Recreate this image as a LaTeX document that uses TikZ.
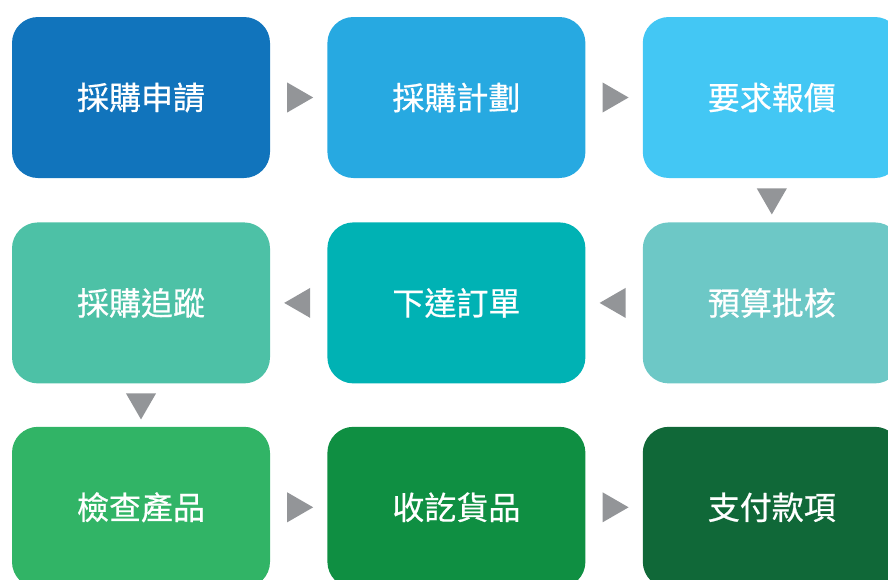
\documentclass[tikz,border=0pt]{standalone}
\usepackage{fontspec}
\newfontfamily\cjk[FakeBold=0.6]{Noto Sans CJK TC}
\usetikzlibrary{positioning,shapes.geometric}
\definecolor{applyblue}{HTML}{1174BC}
\definecolor{planblue}{HTML}{27A9E1}
\definecolor{quoteblue}{HTML}{43C7F4}
\definecolor{budgetteal}{HTML}{6DC8C6}
\definecolor{orderteal}{HTML}{00B2B4}
\definecolor{tracegreen}{HTML}{4DC1A6}
\definecolor{checkgreen}{HTML}{31B466}
\definecolor{receivegreen}{HTML}{0F8F42}
\definecolor{paygreen}{HTML}{106838}
\definecolor{trigray}{HTML}{939598}
\tikzstyle{stage} = [rectangle,rounded corners=26pt,minimum width=258pt,minimum height=161pt,inner sep=0pt,text=white,font=\cjk\fontsize{32}{32}\selectfont]
\tikzstyle{tri} = [isosceles triangle,isosceles triangle apex angle=60,fill=trigray,inner sep=0pt,minimum height=26pt,pos=.45]

\begin{document}
\begin{tikzpicture}[x=1pt,y=-1pt,node distance=57pt and 57pt]
      \useasboundingbox(0,0)rectangle(888,579);
      \clip(0,0)rectangle(888,579);
      \node[stage,fill=applyblue](apply)at(141,97.5){採購申請};
      \node[stage,fill=planblue,right=of apply](plan){採購計劃};
      \node[stage,fill=quoteblue,right=of plan](quote){要求報價};
      \node[stage,fill=budgetteal,below=44pt of quote](budget){預算批核};
      \node[stage,fill=orderteal,left=of budget](order){下達訂單};
      \node[stage,fill=tracegreen,left=of order](trace){採購追蹤};
      \node[stage,fill=checkgreen,below=43pt of trace](check){檢查產品};
      \node[stage,fill=receivegreen,right=of check](receive){收訖貨品};
      \node[stage,fill=paygreen,right=of receive](pay){支付款項};
      \path(apply)--node[tri]{}(plan);
      \path(plan)--node[tri]{}(quote);
      \path(quote)--node[tri,shape border rotate=-90,pos=.43]{}(budget);
      \path(budget)--node[tri,shape border rotate=180]{}(order);
      \path(order)--node[tri,shape border rotate=180]{}(trace);
      \path(trace)--node[tri,shape border rotate=-90,pos=.43]{}(check);
      \path(check)--node[tri]{}(receive);
      \path(receive)--node[tri]{}(pay);
\end{tikzpicture}
\end{document}
